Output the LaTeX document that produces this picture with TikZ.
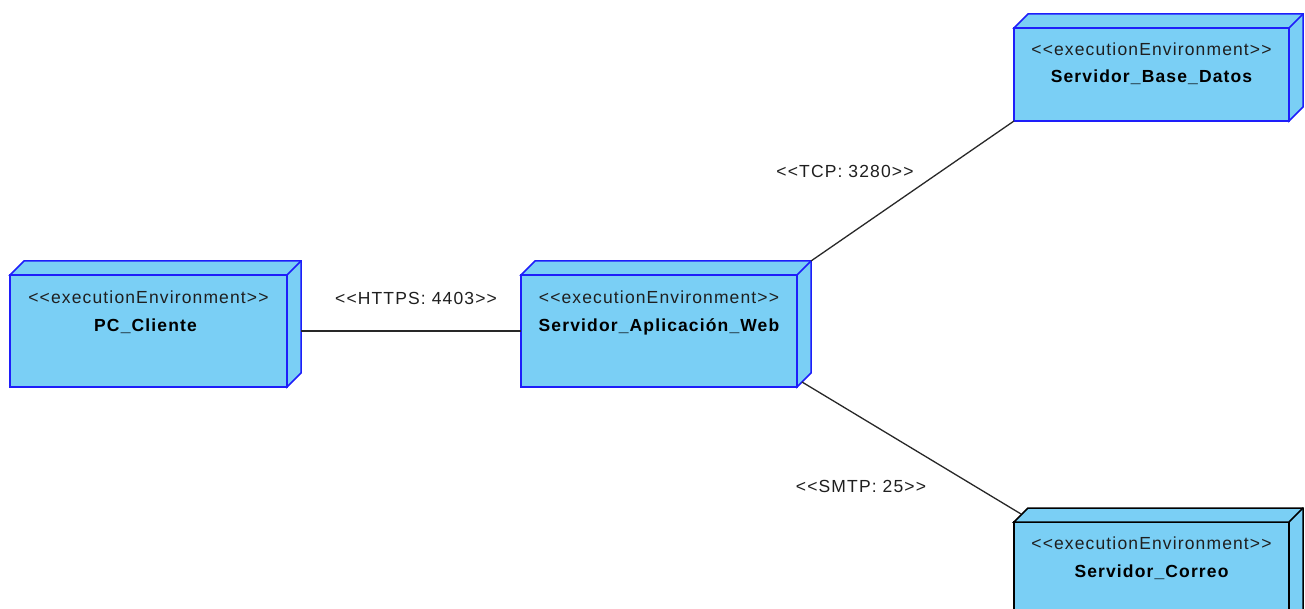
\documentclass[tikz,border=0pt]{standalone}
\usepackage{fontspec}
\setmainfont{Liberation Sans}
\newfontfamily\diafont[LetterSpace=6.5]{Liberation Sans}
\definecolor{envfill}{RGB}{122,207,245}
\definecolor{envblue}{RGB}{30,30,250}
\definecolor{linegray}{RGB}{40,40,40}
\begin{document}
\begin{tikzpicture}[x=1pt,y=-1pt,
  envbox/.style={draw=envblue, fill=envfill, line width=1.5pt, inner sep=0pt, outer sep=0pt,
    anchor=north west, minimum width=#1},
  envbox/.default=277pt,
  face/.style={draw=envblue, fill=envfill, line width=1.5pt, line join=miter},
  stereo/.style={anchor=base, font=\diafont\fontsize{17.5}{20}\selectfont, text=black!88, inner sep=0pt},
  ename/.style={anchor=base, font=\diafont\fontsize{17.5}{20}\selectfont\bfseries, text=black, inner sep=0pt},
  conn/.style={draw=linegray, line width=1.3pt},
  clabel/.style={anchor=base, font=\diafont\fontsize{17.5}{20}\selectfont, text=black!88, inner sep=0pt}
]
\useasboundingbox (0,0) rectangle (1305,609);
\clip (0,0) rectangle (1305,609);
\fill[white] (0,0) rectangle (1305,609);

% PC_Cliente
\node[envbox=277pt, minimum height=112pt] (pc) at (10,275) {};
\draw[face] (pc.north west) -- ++(14,-14) -- ++(277,0) -- ++(0,112) -- ++(-14,14) -- (pc.north east) -- cycle;
\draw[face] (pc.north east) -- ++(14,-14);
\node[stereo] (pcst) at ([yshift=-28pt]pc.north) {<<executionEnvironment>>};
\node[ename] (pcnm) at ([xshift=-3pt,yshift=-56pt]pc.north) {PC\_Cliente};

% Servidor_Aplicacion_Web
\node[envbox=276pt, minimum height=112pt] (app) at (521,275) {};
\draw[face] (app.north west) -- ++(14,-14) -- ++(276,0) -- ++(0,112) -- ++(-14,14) -- (app.north east) -- cycle;
\draw[face] (app.north east) -- ++(14,-14);
\node[stereo] (appst) at ([yshift=-28pt]app.north) {<<executionEnvironment>>};
\node[ename] (appnm) at ([yshift=-56pt]app.north) {Servidor\_Aplicación\_Web};

% Servidor_Base_Datos
\node[envbox=275pt, minimum height=93pt] (db) at (1014,28) {};
\draw[face] (db.north west) -- ++(14,-14) -- ++(275,0) -- ++(0,93) -- ++(-14,14) -- (db.north east) -- cycle;
\draw[face] (db.north east) -- ++(14,-14);
\node[stereo] (dbst) at ([yshift=-28pt]db.north) {<<executionEnvironment>>};
\node[ename] (dbnm) at ([yshift=-55pt]db.north) {Servidor\_Base\_Datos};

% Servidor_Correo
\node[envbox=275pt, minimum height=112pt, draw=black] (mail) at (1014,522) {};
\draw[face, draw=black] (mail.north west) -- ++(14,-14) -- ++(275,0) -- ++(0,112) -- ++(-14,14) -- (mail.north east) -- cycle;
\draw[face, draw=black] (mail.north east) -- ++(14,-14);
\node[stereo] (mailst) at ([yshift=-27pt]mail.north) {<<executionEnvironment>>};
\node[ename] (mailnm) at ([yshift=-55pt]mail.north) {Servidor\_Correo};

% connectors
\coordinate (pcside) at ([xshift=14pt]pc.east);
\coordinate (appbtr) at ([xshift=14pt,yshift=14pt]app.north east);
\coordinate (appbsd) at ([xshift=5pt,yshift=5pt]app.south east);
\coordinate (mailtop) at ([xshift=7pt,yshift=8pt]mail.north west);
\draw[conn] (pcside) -- (app.west);
\draw[conn] (appbtr) -- (db.south west);
\draw[conn] (appbsd) -- (mailtop);

\node[clabel] (l1) at (416,305) {<<HTTPS: 4403>>};
\node[clabel] (l2) at (845,178) {<<TCP: 3280>>};
\node[clabel] (l3) at (861,492) {<<SMTP: 25>>};
\end{tikzpicture}
\end{document}
